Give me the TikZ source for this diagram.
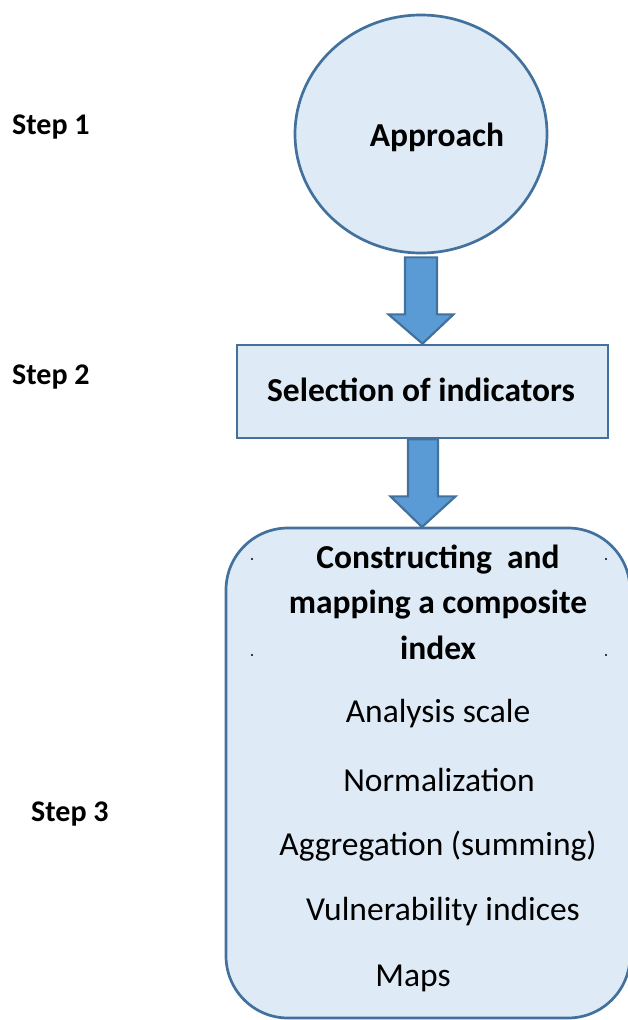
\documentclass[tikz,border=0pt]{standalone}
\usepackage{fontspec}
\setmainfont{Carlito}
\usetikzlibrary{shapes.geometric,calc}
\definecolor{boxfill}{HTML}{DEEAF6}
\definecolor{boxline}{HTML}{41719C}
\definecolor{arrowfill}{HTML}{5B9BD5}
\tikzset{
  shapeline/.style={draw=boxline, line width=2.7pt, fill=boxfill},
  bigarrow/.style={draw=boxline, line width=2.2pt, fill=arrowfill, line join=miter},
  steplabel/.style={font=\fontsize{30}{36}\selectfont\bfseries, anchor=west, inner sep=0pt},
  boldtxt/.style={font=\fontsize{33.5}{40}\selectfont\bfseries, inner sep=0pt},
  plaintxt/.style={font=\fontsize{33.5}{40}\selectfont, inner sep=0pt},
}
\begin{document}
\begin{tikzpicture}[x=1pt,y=-1pt]
\useasboundingbox (0,0) rectangle (628,1020);
% shapes
\node[ellipse, shapeline, minimum width=252pt, minimum height=238pt] (c1) at (421,134) {};
\node[boldtxt] (t1) at (437,137) {Approach};
\node[shapeline, rectangle, minimum width=371pt, minimum height=93pt] (r2) at (422.5,391.5) {};
\node[boldtxt] (t2) at (421,390) {Selection of indicators};
\draw[shapeline, rounded corners=62pt] (226,528) rectangle (630,1018);
\coordinate (r3top) at (422,528);
% dots
\foreach \p in {(252,559),(606,559),(252,655),(606,655)} \fill \p circle (1.2pt);
% arrows
\coordinate (a1s) at (c1.south);
\draw[bigarrow] ($(a1s)+(-16,3)$) -- ($(a1s)+(16,3)$) -- ($(a1s)+(16,60)$) -- ($(a1s)+(32.5,60)$)
  -- (r2.north) -- ($(a1s)+(-32.5,60)$) -- ($(a1s)+(-16,60)$) -- cycle;
\coordinate (a2s) at ([xshift=0.5pt]r2.south);
\draw[bigarrow] ($(a2s)+(-15,0)$) -- ($(a2s)+(15,0)$) -- ($(a2s)+(15,57)$) -- ($(a2s)+(32.5,57)$)
  -- ($(r3top)+(0,-1)$) -- ($(a2s)+(-32.5,57)$) -- ($(a2s)+(-15,57)$) -- cycle;
% texts in box 3
\node[boldtxt] (h1) at (438,560) {Constructing\ \ and};
\node[boldtxt] (h2) at (438,605) {mapping a composite};
\node[boldtxt] (h3) at (438,648) {index};
\node[plaintxt] (l1) at (438,714) {Analysis scale};
\node[plaintxt] (l2) at (439,780) {Normalization};
\node[plaintxt] (l3) at (438,846) {Aggregation (summing)};
\node[plaintxt] (l4) at (443,912) {Vulnerability indices};
\node[plaintxt] (l5) at (413,978) {Maps};
% step labels
\node[steplabel] (s1) at (12,127) {Step 1};
\node[steplabel] (s2) at (12,377) {Step 2};
\node[steplabel] (s3) at (31,814) {Step 3};
\end{tikzpicture}
\end{document}
